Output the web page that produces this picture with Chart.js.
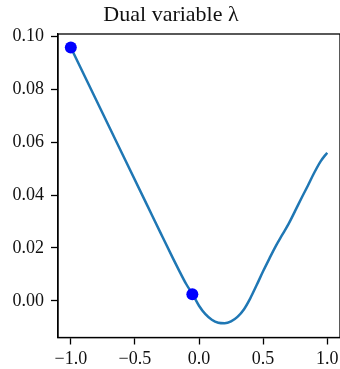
<!DOCTYPE html>
<html>
<head>
<meta charset="utf-8">
<script src="https://cdn.jsdelivr.net/npm/chart.js@4.4.0/dist/chart.umd.min.js"></script>
<style>
  html, body { margin: 0; padding: 0; overflow: hidden; background: #fff; }
  #wrap { position: absolute; left: 0; top: 0; width: 346px; height: 369px; }
</style>
</head>
<body>
<div id="wrap"><canvas id="c" width="346" height="369"></canvas></div>
<script>
const titleText = 'Dual variable \u03bb';
const xValues = [-1.0, -0.8, -0.6, -0.4, -0.3, -0.2, -0.15, -0.1, -0.05, 0.0, 0.05, 0.1, 0.15, 0.2, 0.25, 0.3, 0.35, 0.4, 0.45, 0.5, 0.55, 0.6, 0.65, 0.7, 0.75, 0.8, 0.85, 0.9, 0.95, 1.0];
const lambdaValues = [0.0957, 0.0757, 0.0557, 0.0357, 0.0257, 0.0158, 0.0110, 0.0064, 0.0025, -0.0018, -0.0050, -0.0071, -0.0082, -0.0084, -0.0077, -0.0060, -0.0032, 0.0010, 0.0060, 0.0112, 0.0161, 0.0208, 0.0250, 0.0292, 0.0340, 0.0389, 0.0436, 0.0485, 0.0528, 0.0560];
const markerX = [-1.0, -0.052];
const markerY = [0.0957, 0.0025];
const xTicks = [-1.0, -0.5, 0.0, 0.5, 1.0];
const yTicks = [0.00, 0.02, 0.04, 0.06, 0.08, 0.10];
const xRange = [-1.1, 1.1];
const yRange = [-0.0138, 0.1008];

const FONT = '"Liberation Serif", "DejaVu Serif", serif';

const framePlugin = {
  id: 'frame',
  afterDraw(chart) {
    const {ctx, chartArea: a} = chart;
    ctx.save();
    ctx.strokeStyle = '#000';
    ctx.lineWidth = 1.3;
    ctx.strokeRect(a.left, a.top, a.right - a.left, a.bottom - a.top);
    ctx.restore();
  }
};

new Chart(document.getElementById('c'), {
  type: 'scatter',
  data: {
    datasets: [
      {
        data: markerX.map((x, i) => ({x, y: markerY[i]})),
        backgroundColor: '#0000ff',
        borderWidth: 0,
        pointRadius: 6,
        order: 0
      },
      {
        data: xValues.map((x, i) => ({x, y: lambdaValues[i]})),
        showLine: true,
        borderColor: '#1f77b4',
        borderWidth: 2.5,
        pointRadius: 0,
        cubicInterpolationMode: 'monotone',
        order: 1
      }
    ]
  },
  plugins: [framePlugin],
  options: {
    responsive: false,
    animation: false,
    devicePixelRatio: 1,
    layout: { padding: { left: 0, right: 4, top: 0, bottom: 0 } },
    plugins: {
      legend: { display: false },
      tooltip: { enabled: false },
      title: {
        display: true,
        text: titleText,
        color: '#111',
        font: { family: FONT, size: 22, weight: 'normal' },
        padding: { top: 2, bottom: 5.6 }
      }
    },
    scales: {
      x: {
        type: 'linear',
        min: xRange[0], max: xRange[1],
        afterBuildTicks: s => { s.ticks = xTicks.map(v => ({value: v})); },
        afterFit: s => { s.height = 31.5; },
        grid: { drawOnChartArea: false, tickLength: 7, color: '#000', tickWidth: 1.3 },
        border: { color: '#000', width: 1.3 },
        ticks: {
          padding: 4, color: '#111', maxRotation: 0, autoSkip: false,
          font: { family: FONT, size: 18 },
          callback: v => (v < 0 ? '\u2212' : '') + Math.abs(v).toFixed(1)
        }
      },
      y: {
        type: 'linear',
        min: yRange[0], max: yRange[1],
        afterBuildTicks: s => { s.ticks = yTicks.map(v => ({value: v})); },
        afterFit: s => { s.width = 58; },
        grid: { drawOnChartArea: false, tickLength: 7, color: '#000', tickWidth: 1.3 },
        border: { color: '#000', width: 1.3 },
        ticks: {
          padding: 7, color: '#111', autoSkip: false,
          font: { family: FONT, size: 18 },
          callback: v => v.toFixed(2)
        }
      }
    }
  }
});
</script>
</body>
</html>
